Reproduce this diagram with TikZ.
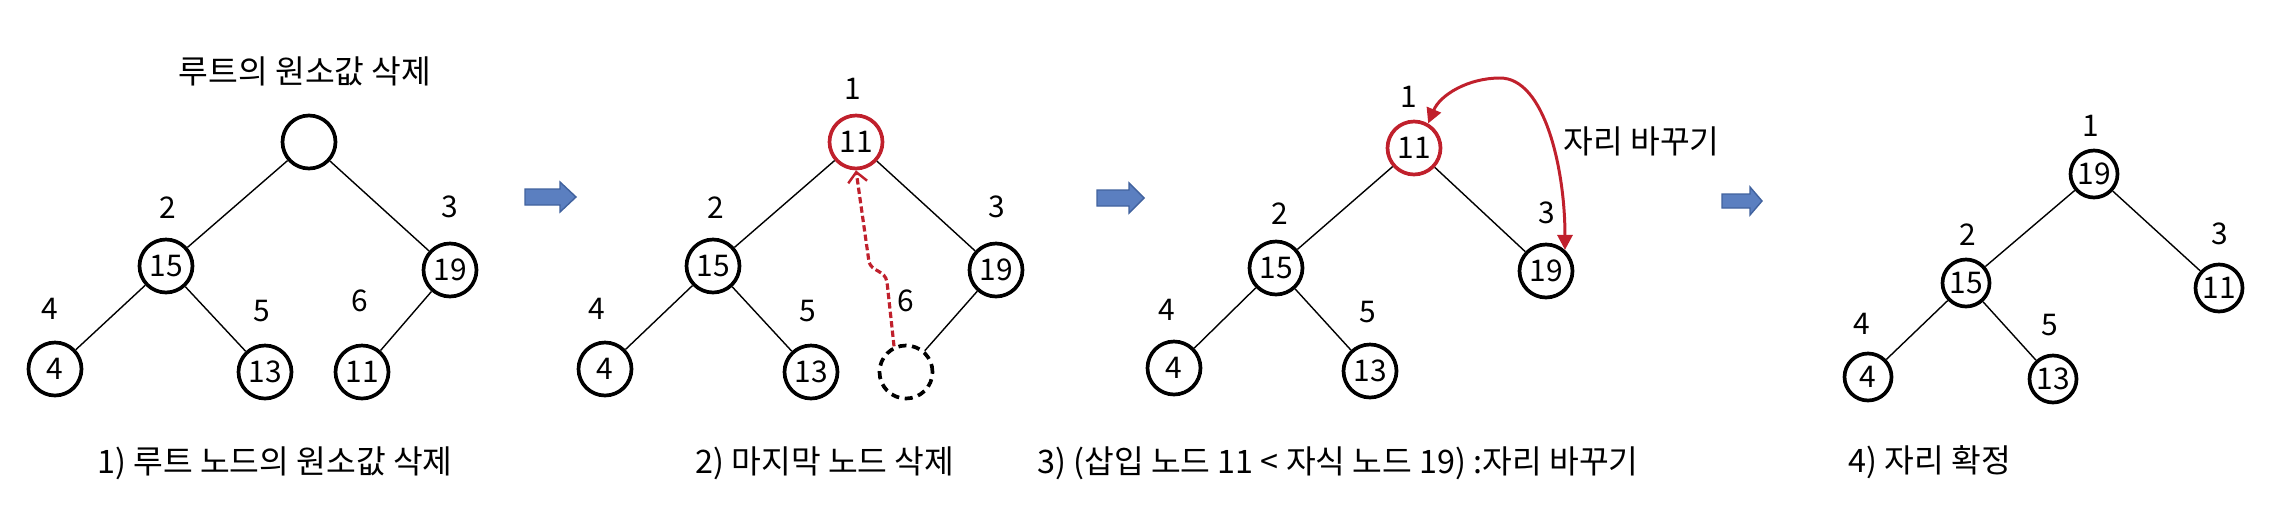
\documentclass[tikz,border=0pt]{standalone}
\usepackage{fontspec}
\setmainfont{Noto Sans CJK KR}
\usetikzlibrary{arrows.meta,calc}
\definecolor{hred}{RGB}{192,32,44}
\definecolor{ablue}{RGB}{91,127,192}
\definecolor{ablueedge}{RGB}{65,98,158}
\newcommand\bluearrowshape[6]{%
  \filldraw[fill=ablue,draw=ablueedge,line width=0.4pt]
   ({#1},{#2-#5}) -- ({#1+#3-#4},{#2-#5}) -- ({#1+#3-#4},{#2-#6}) -- ({#1+#3},{#2})
   -- ({#1+#3-#4},{#2+#6}) -- ({#1+#3-#4},{#2+#5}) -- ({#1},{#2+#5}) -- cycle;}
\begin{document}
\begin{tikzpicture}[x=0.1mm,y=-0.1mm,
  every node/.style={font=\fontsize{8.5}{10}\selectfont,inner sep=0pt},
  hnode/.style={circle,draw,line width=1.05pt,minimum size=5.3mm},
  snode/.style={circle,draw,line width=1.05pt,minimum size=4.7mm},
  rnode/.style={hnode,draw=hred},
  dnode/.style={hnode,dash pattern=on 2.3pt off 1.6pt},
  edge/.style={line width=0.4pt},
  ktext/.style={font=\fontsize{9.2}{11}\selectfont},
  reddash/.style={draw=hred,line width=0.9pt,dash pattern=on 1.8pt off 0.9pt,
     -{Straight Barb[length=1mm,width=1.9mm,line width=0.7pt]}},
  redswap/.style={draw=hred,line width=0.85pt,
     {Triangle[length=1.5mm,width=1.5mm]}-{Triangle[length=1.5mm,width=1.5mm]}},
  captext/.style={ktext,anchor=center}]
\useasboundingbox (0,0) rectangle (2279,519);
% ---------- panel 1
\node[ktext] (t1) at (305,71) {루트의 원소값 삭제};
\node[hnode] (a1) at (309,142) {};
\node[hnode] (a2) at (166,266) {15};
\node[hnode] (a3) at (450,270) {19};
\node[hnode] (a4) at (55,369) {4};
\node[hnode] (a5) at (265,372) {13};
\node[hnode] (a6) at (362,372) {11};
\draw[edge] (a1)--(a2) (a1)--(a3) (a2)--(a4) (a2)--(a5) (a3)--(a6);
\node (al2) at (168,208) {2};
\node (al3) at (450,207) {3};
\node (al4) at (50,309) {4};
\node (al5) at (262,311) {5};
\node (al6) at (360,301) {6};
\node[captext] (c1) at (275,463) {1) 루트 노드의 원소값 삭제};
\bluearrowshape{525}{197}{51}{16}{8}{15}
% ---------- panel 2
\node[rnode] (b1) at (856,142) {11};
\node[hnode] (b2) at (713,266) {15};
\node[hnode] (b3) at (996,270) {19};
\node[hnode] (b4) at (605,369) {4};
\node[hnode] (b5) at (811,372) {13};
\node[dnode] (b6) at (906,372) {};
\draw[edge] (b1)--(b2) (b1)--(b3) (b2)--(b4) (b2)--(b5) (b3)--(b6);
\node (bl1) at (853,89) {1};
\node (bl2) at (716,208) {2};
\node (bl3) at (997,207) {3};
\node (bl4) at (597,309) {4};
\node (bl5) at (808,311) {5};
\node (bl6) at (906,301) {6};
\draw[reddash] (b6.115) -- (887,282) .. controls (885,270) and (872,272) .. (869,262) -- (b1.south);
\node[captext] (c2) at (825,463) {2) 마지막 노드 삭제};
\bluearrowshape{1097}{198}{47}{15}{8}{15}
% ---------- panel 3
\node[rnode] (r3) at (1414,148) {11};
\node[hnode] (c32) at (1276,268) {15};
\node[hnode] (c33) at (1546,271) {19};
\node[hnode] (c34) at (1174,368) {4};
\node[hnode] (c35) at (1370,371) {13};
\draw[edge] (r3)--(c32) (r3)--(c33) (c32)--(c34) (c32)--(c35);
\node (cl1) at (1409,97) {1};
\node (cl2) at (1280,214) {2};
\node (cl3) at (1547,213) {3};
\node (cl4) at (1167,310) {4};
\node (cl5) at (1368,312) {5};
\draw[redswap] (r3.60) .. controls (1440,95) and (1468,78) .. (1500,78)
   .. controls (1545,78) and (1565,170) .. (c33.48);
\node[ktext,anchor=west] (sw) at (1563,141) {자리 바꾸기};
\node[captext] (c3) at (1338,463) {3) (삽입 노드 11 < 자식 노드 19) :자리 바꾸기};
\bluearrowshape{1722}{201}{40}{12}{7}{14}
% ---------- panel 4
\node[snode] (d1) at (2094,174) {19};
\node[snode] (d2) at (1966,283) {15};
\node[snode] (d3) at (2219,288) {11};
\node[snode] (d4) at (1868,377) {4};
\node[snode] (d5) at (2053,379) {13};
\draw[edge] (d1)--(d2) (d1)--(d3) (d2)--(d4) (d2)--(d5);
\node (dl1) at (2091,126) {1};
\node (dl2) at (1968,235) {2};
\node (dl3) at (2220,234) {3};
\node (dl4) at (1862,324) {4};
\node (dl5) at (2050,325) {5};
\node[captext] (c4) at (1930,462) {4) 자리 확정};
\end{tikzpicture}
\end{document}
